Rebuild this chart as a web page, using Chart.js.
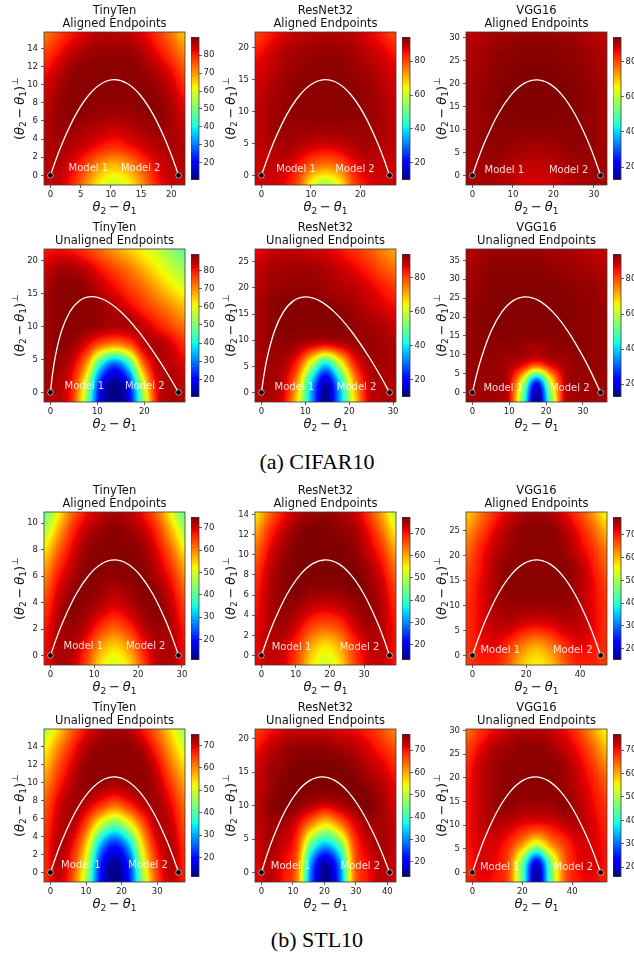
<!DOCTYPE html>
<html><head><meta charset="utf-8">
<script src="https://cdn.jsdelivr.net/npm/chart.js@4.4.1/dist/chart.umd.min.js"></script>
<style>
html,body{margin:0;padding:0;background:#fff;overflow:hidden;width:634px;height:959px;}
#fig{position:relative;width:634px;height:959px;overflow:hidden;}
#fig canvas{position:absolute;}
.cap{position:absolute;left:0;width:634px;text-align:center;font-family:"Liberation Serif","Times New Roman",serif;font-size:22px;line-height:24px;color:#000;}
</style></head><body><div id="fig"></div>
<script>
// ---------------- data ----------------
const networks = ['TinyTen', 'ResNet32', 'VGG16'];
const settingTitles = ['Aligned Endpoints', 'Unaligned Endpoints'];
const captions = ['(a) CIFAR10', '(b) STL10'];
const modelLabels = ['Model 1', 'Model 2'];

// panel order: CIFAR aligned (3), CIFAR unaligned (3), STL aligned (3), STL unaligned (3)
const endpointX = [21.2, 25.9, 31.65, 27.3, 29.2, 34.8, 29.25, 37.4, 47.6, 36.0, 40.7, 51.4];
const xLimits = [[-1.06,22.26],[-1.3,27.2],[-1.58,33.23],[-1.37,28.67],[-1.46,30.66],[-1.74,36.54],[-1.46,30.71],[-1.87,39.27],[-2.38,49.98],[-1.8,37.8],[-2.04,42.74],[-2.57,53.97]];
const yLimits = [[-1.06,15.8],[-1.5,22.4],[-2.08,31.2],[-1.46,21.8],[-1.83,27.45],[-2.5,38.0],[-0.72,10.85],[-0.95,14.25],[-1.92,28.8],[-1.07,16.0],[-1.43,21.45],[-2.02,30.3]];
const colorLimits = [[10.7,89.8],[10.2,93.9],[13.0,93.7],[10.6,88.8],[10.2,93.5],[13.1,93.9],[11.2,74.5],[13.4,77.0],[15.3,77.6],[11.5,74.9],[13.4,77.0],[16.0,76.7]];
const xTicks = [[0,5,10,15,20],[0,10,20],[0,10,20,30],[0,10,20],[0,10,20,30],[0,10,20,30],[0,10,20,30],[0,10,20,30],[0,20,40],[0,10,20,30],[0,10,20,30,40],[0,20,40]];
const yTicks = [[0,2,4,6,8,10,12,14],[0,5,10,15,20],[0,5,10,15,20,25,30],[0,5,10,15,20],[0,5,10,15,20,25],[0,5,10,15,20,25,30,35],[0,2,4,6,8,10],[0,2,4,6,8,10,12,14],[0,5,10,15,20,25],[0,2,4,6,8,10,12,14],[0,5,10,15,20],[0,5,10,15,20,25,30]];
const colorTicks = [[20,30,40,50,60,70,80],[20,40,60,80],[20,40,60,80],[20,30,40,50,60,70,80],[20,40,60,80],[20,40,60,80],[20,30,40,50,60,70],[20,30,40,50,60,70],[20,30,40,50,60,70],[20,30,40,50,60,70],[20,30,40,50,60,70],[20,30,40,50,60,70]];

// white connecting curves
const curveX = [
 [0,1.06,2.12,4.24,6.36,8.48,10.6,12.72,14.84,16.96,19.08,20.14,21.2],
 [0,1.3,2.59,5.18,7.77,10.36,12.95,15.54,18.13,20.72,23.31,24.61,25.9],
 [0,1.58,3.17,6.33,9.5,12.66,15.83,18.99,22.16,25.32,28.49,30.07,31.65],
 [0,0.44,0.98,2.35,4.12,6.27,8.8,11.73,15.04,18.73,22.82,25.01,27.3],
 [0,0.61,1.3,2.96,4.98,7.36,10.1,13.2,16.66,20.48,24.66,26.88,29.2],
 [0,1.18,2.42,5.07,7.96,11.09,14.45,18.05,21.88,25.95,30.26,32.5,34.8],
 [0,1.46,2.93,5.85,8.78,11.7,14.63,17.55,20.48,23.4,26.33,27.79,29.25],
 [0,1.87,3.74,7.48,11.22,14.96,18.7,22.44,26.18,29.92,33.66,35.53,37.4],
 [0,2.38,4.76,9.52,14.28,19.04,23.8,28.56,33.32,38.08,42.84,45.22,47.6],
 [0,1.78,3.56,7.14,10.72,14.3,17.9,21.5,25.12,28.74,32.36,34.18,36.0],
 [0,1.83,3.7,7.47,11.33,15.27,19.3,23.41,27.61,31.89,36.26,38.46,40.7],
 [0,2.48,4.96,9.96,15.0,20.08,25.2,30.36,35.56,40.8,46.08,48.74,51.4]
];
const curveY = [
 [0,2.0,3.8,6.75,8.86,10.13,10.55,10.13,8.86,6.75,3.8,2.0,0],
 [0,2.84,5.38,9.57,12.56,14.35,14.95,14.35,12.56,9.57,5.38,2.84,0],
 [0,3.95,7.49,13.31,17.47,19.97,20.8,19.97,17.47,13.31,7.49,3.95,0],
 [0,2.76,5.24,9.31,12.22,13.97,14.55,13.97,12.22,9.31,5.24,2.76,0],
 [0,3.48,6.59,11.71,15.37,17.57,18.3,17.57,15.37,11.71,6.59,3.48,0],
 [0,4.82,9.13,16.22,21.29,24.34,25.35,24.34,21.29,16.22,9.13,4.82,0],
 [0,1.37,2.6,4.63,6.07,6.94,7.23,6.94,6.07,4.63,2.6,1.37,0],
 [0,1.81,3.42,6.08,7.98,9.12,9.5,9.12,7.98,6.08,3.42,1.81,0],
 [0,3.65,6.91,12.29,16.13,18.43,19.2,18.43,16.13,12.29,6.91,3.65,0],
 [0,2.03,3.84,6.82,8.95,10.23,10.66,10.23,8.95,6.82,3.84,2.03,0],
 [0,2.72,5.15,9.15,12.01,13.73,14.3,13.73,12.01,9.15,5.15,2.72,0],
 [0,3.84,7.27,12.93,16.97,19.39,20.2,19.39,16.97,12.93,7.27,3.84,0]
];

// accuracy (%) sampled on an 11 x 9 grid spanning each panel (rows top -> bottom)
const accuracyGrids = [
 [[72,77,81,84,86,86,85,83,79,73,66],[77,81,85,87,88,88,88,86,82,77,71],[81,85,88,89,89,89,89,88,86,82,76],[84,87,89,89,89,89,89,89,88,85,80],[85,88,89,89,88,88,88,89,89,87,83],[86,88,88,87,86,85,86,87,88,87,85],[86,87,86,84,81,79,81,84,86,87,86],[86,86,83,77,70,67,70,77,83,86,86],[85,85,80,71,62,58,62,71,80,85,85]],
 [[80,84,87,89,90,90,90,89,87,84,80],[84,87,90,91,92,92,92,91,89,87,84],[87,89,91,92,93,93,93,92,91,89,87],[88,90,92,93,93,93,93,93,92,90,88],[89,91,92,93,93,93,93,93,92,91,89],[89,91,92,92,92,92,92,92,92,91,89],[89,90,91,90,88,87,88,90,91,90,89],[88,89,89,85,78,75,78,85,89,89,88],[88,88,86,80,64,57,64,80,86,88,88]],
 [[89,90,91,91.5,92,92,92,91.5,91,90,89],[90,91,92,92.5,93,93,93,92.5,92,91,90],[90.5,91.5,92.5,93,93.5,93.5,93.5,93,92.5,91.5,90.5],[91,92,93,93.5,93.5,93.5,93.5,93.5,93,92,91],[91,92,93,93.5,93.5,93.5,93.5,93.5,93,92,91],[91,92,93,93,93,93,93,93,93,92,91],[91,92,92.5,92,91.5,91,91.5,92,92.5,92,91],[91,91.5,91.5,90.5,89.5,89,89.5,90.5,91.5,91.5,91],[90.5,91,90.5,89.5,88,87.5,88,89.5,90.5,91,90.5]],
 [[80,81,80,77,73,69,65,61,57,52,47],[83,86,86,84,80,76,72,67,62,57,53],[85,88,88,87,84,81,77,73,68,63,59],[86,88,88,88,87,85,82,78,74,70,66],[86,88,88,88,87,86,86,84,80,76,72],[86,88,87,82,74,70,74,84,86,83,78],[86,87,83,70,42,28,42,72,85,85,82],[86,86,80,58,22,12,22,57,82,86,84],[85,85,78,52,18,11,18,50,80,86,85]],
 [[85,88,89,89,88,87,85,82,79,75,71],[88,90,91,91,91,90,88,86,83,79,76],[89,91,92,92,92,91,90,89,87,84,81],[90,92,93,93,93,93,92,91,89,87,85],[90,92,93,93,93,93,93,92,91,90,88],[90,92,92,91,88,86,88,91,92,91,90],[90,91,90,82,60,40,60,82,90,91,90],[90,91,88,72,38,14,38,70,88,90,90],[89,90,86,66,34,11,34,64,86,90,90]],
 [[90,91,92,92,92,92,91.5,91,90.5,89.5,88.5],[91,92,93,93,93,93,92.5,92,91.5,91,90],[91.5,92.5,93.5,93.5,93.5,93.5,93.5,93,92.5,92,91],[92,93,93.5,93.5,93.5,93.5,93.5,93.5,93,92.5,92],[92,93,93.5,93.5,93.5,93.5,93.5,93.5,93,92.5,92],[92,93,93,93,92.5,91.5,92.5,93,93,92.5,92],[92,92.5,92.5,91,88,82,88,91,92.5,92.5,92],[91.5,92,92,89,62,25,62,89,92,92,91.5],[91,91.5,91,88,52,13,52,88,91,91.5,91]],
 [[41,52,62,68,71,72,71,68,62,52,41],[47,57,66,71,73,74,73,71,66,57,47],[53,62,69,73,74,74,74,73,69,62,53],[58,66,71,74,74,74,74,74,71,66,58],[62,69,73,74,73,72,73,74,73,69,62],[65,71,74,73,71,69,71,73,74,71,65],[67,72,73,71,66,63,66,71,73,72,67],[68,72,72,67,59,55,59,67,72,72,68],[68,72,71,64,54,50,54,64,71,72,68]],
 [[55,64,70,74,75,76,75,73,68,60,50],[60,68,73,76,77,77,76,75,71,64,55],[64,71,75,77,77,77,77,76,73,68,60],[67,73,76,77,77,77,77,77,75,71,64],[69,74,76,77,76,76,76,77,76,73,67],[70,74,76,75,73,72,73,75,76,74,69],[71,74,75,72,67,65,67,72,75,74,70],[71,74,73,68,60,56,60,68,73,74,70],[71,73,72,66,56,52,56,66,72,73,70]],
 [[58,64,69,73,75,76,75,72,68,62,55],[62,67,72,75,77,77,77,75,71,66,60],[65,70,74,76,77,77,77,76,73,69,64],[67,71,75,77,77,77,77,77,75,71,66],[68,72,75,77,77,77,77,77,75,72,68],[69,72,75,76,76,76,76,76,75,72,69],[69,72,74,74,72,71,72,74,74,72,69],[69,71,72,69,64,61,64,69,72,71,69],[68,70,70,66,59,56,59,66,70,70,68]],
 [[47,55,63,69,72,73,72,68,62,54,46],[52,60,67,72,74,74,74,72,66,58,50],[56,64,70,74,74,74,74,74,70,62,55],[60,67,72,74,73,72,73,74,72,66,59],[63,70,73,71,66,62,66,71,73,69,62],[65,71,72,64,50,42,50,63,72,71,64],[66,72,69,56,32,22,32,55,69,72,66],[66,72,66,50,22,13,22,49,66,72,67],[66,71,64,46,20,12,20,45,64,71,67]],
 [[67,70,72,73,73,73,72,71,69,66,62],[70,73,75,76,76,76,75,74,72,69,66],[72,75,76,77,77,77,77,76,74,72,69],[73,75,77,77,77,77,77,77,76,74,71],[73,76,77,76,74,72,74,76,77,75,72],[73,75,75,71,62,55,62,71,75,75,73],[72,75,73,67,44,34,44,66,73,75,73],[72,74,71,64,30,16,30,63,71,74,73],[71,74,70,62,27,14,27,62,70,74,72]],
 [[64,68,71,73,74,74,73,71,67,61,55],[67,71,74,75,76,76,75,73,70,65,59],[69,73,75,76,76,76,76,75,72,68,63],[70,73,75,76,76,76,76,75,73,70,66],[70,73,75,76,75,75,75,76,74,71,68],[70,73,74,73,71,70,71,73,74,72,69],[70,72,72,69,62,53,62,68,72,72,70],[69,72,71,66,46,22,46,65,71,72,70],[69,71,70,66,44,17,44,65,70,71,69]]
];

// ---------------- layout / style ----------------
const COL_LEFT = [44, 255, 466], ROW_TOP = [32, 249, 512, 729];
const PLOT_W = 141, PLOT_H = 153, PAD_L = 44, PAD_T = 32, AX_H = 30;
const FONT = '"DejaVu Sans", "Liberation Sans", sans-serif';
const AXIS_COLOR = '#3a3a3a', TEXT_COLOR = '#222';
const TICK_SIZE = 8.5;
const fig = document.getElementById('fig');

const JET = {
  r: [[0,0],[0.35,0],[0.66,1],[0.89,1],[1,0.5]],
  g: [[0,0],[0.125,0],[0.375,1],[0.64,1],[0.91,0],[1,0]],
  b: [[0,0.5],[0.11,1],[0.34,1],[0.65,0],[1,0]]
};
function seg(s, t) {
  for (let k = 1; k < s.length; k++) {
    if (t <= s[k][0]) { const [x0,y0] = s[k-1], [x1,y1] = s[k]; return y0 + (y1 - y0) * (t - x0) / (x1 - x0); }
  }
  return s[s.length-1][1];
}
function jet(t) {
  t = Math.max(0, Math.min(1, t));
  return [Math.round(255*seg(JET.r,t)), Math.round(255*seg(JET.g,t)), Math.round(255*seg(JET.b,t))];
}
// Catmull-Rom, clamped between the two inner samples (no overshoot)
function cubic(p0, p1, p2, p3, t) {
  const v = p1 + 0.5 * t * (p2 - p0 + t * (2*p0 - 5*p1 + 4*p2 - p3 + t * (3*(p1 - p2) + p3 - p0)));
  return Math.max(Math.min(p1, p2), Math.min(Math.max(p1, p2), v));
}
// render-time smoothing of the sampled grid (like imshow interpolation)
function sampleGrid(g, fx, fy) {
  const rows = g.length, cols = g[0].length;
  const ix = Math.floor(fx), iy = Math.floor(fy), tx = fx - ix, ty = fy - iy;
  const at = (r, c) => g[Math.min(rows-1, Math.max(0, r))][Math.min(cols-1, Math.max(0, c))];
  const col = [];
  for (let k = -1; k <= 2; k++) col.push(cubic(at(iy+k, ix-1), at(iy+k, ix), at(iy+k, ix+1), at(iy+k, ix+2), tx));
  return cubic(col[0], col[1], col[2], col[3], ty);
}

const xLabelParts = [{t:'θ',i:1},{t:'2',s:'sub'},{t:'−',g:0.22},{t:'θ',i:1},{t:'1',s:'sub'}];
const yLabelParts = [{t:'('},{t:'θ',i:1},{t:'2',s:'sub'},{t:'−',g:0.22},{t:'θ',i:1},{t:'1',s:'sub'},{t:')'},{t:'⊥',s:'sup',g:0.04}];
function drawMath(ctx, parts, size, cx, baseY) {
  const items = parts.map(p => {
    const fs = p.s ? size * 0.7 : size;
    const font = (p.i ? 'italic ' : '') + fs + 'px ' + FONT;
    ctx.font = font;
    const gap = (p.g || 0) * size;
    return Object.assign({}, p, { font, gap, w: ctx.measureText(p.t).width + 2 * gap });
  });
  const total = items.reduce((s, it) => s + it.w, 0);
  let xx = cx - total / 2;
  ctx.textAlign = 'left'; ctx.textBaseline = 'alphabetic';
  for (const it of items) {
    ctx.font = it.font;
    const dy = it.s === 'sub' ? size * 0.22 : it.s === 'sup' ? -size * 0.42 : 0;
    ctx.fillText(it.t, xx + it.gap, baseY + dy);
    xx += it.w;
  }
}

function tickSetter(vals) { return s => { s.ticks = vals.map(v => ({ value: v })); }; }
function axisCommon(vals) {
  return {
    type: 'linear', afterBuildTicks: tickSetter(vals),
    grid: { drawOnChartArea: false, drawTicks: true, tickLength: 3, color: AXIS_COLOR, lineWidth: 0.8 },
    border: { display: false },
    ticks: { font: { family: FONT, size: TICK_SIZE }, color: TEXT_COLOR, padding: 2, maxRotation: 0, autoSkip: false }
  };
}
function mkCanvas(left, top, w, h) {
  const c = document.createElement('canvas');
  c.width = w; c.height = h;
  c.style.left = left + 'px'; c.style.top = top + 'px';
  c.style.width = w + 'px'; c.style.height = h + 'px';
  fig.appendChild(c);
  return c;
}

for (let i = 0; i < 12; i++) {
  const row = Math.floor(i / 3), col = i % 3;
  const plotLeft = COL_LEFT[col], plotTop = ROW_TOP[row];

  const heatPlugin = {
    id: 'heat' + i,
    beforeDatasetsDraw(chart) {
      const { ctx, chartArea: a, scales: { x, y } } = chart;
      const grid = accuracyGrids[i], rows = grid.length, cols = grid[0].length;
      const [x0, x1] = xLimits[i], [y0, y1] = yLimits[i], [c0, c1] = colorLimits[i];
      const L = Math.round(a.left), T = Math.round(a.top);
      const W = Math.round(a.right) - L, H = Math.round(a.bottom) - T;
      const off = document.createElement('canvas'); off.width = W; off.height = H;
      const octx = off.getContext('2d'); const img = octx.createImageData(W, H);
      for (let py = 0; py < H; py++) {
        const fy = (y1 - y.getValueForPixel(T + py + 0.5)) / (y1 - y0) * (rows - 1);
        for (let px = 0; px < W; px++) {
          const fx = (x.getValueForPixel(L + px + 0.5) - x0) / (x1 - x0) * (cols - 1);
          const v = sampleGrid(grid, fx, fy);
          const [r, g, b] = jet((v - c0) / (c1 - c0));
          const k = (py * W + px) * 4;
          img.data[k] = r; img.data[k+1] = g; img.data[k+2] = b; img.data[k+3] = 255;
        }
      }
      octx.putImageData(img, 0, 0);
      ctx.drawImage(off, L, T);
    }
  };
  const decoPlugin = {
    id: 'deco' + i,
    afterDatasetsDraw(chart) {
      const { ctx, scales: { x, y } } = chart;
      ctx.save();
      ctx.font = '10px ' + FONT; ctx.fillStyle = 'rgba(255,255,255,0.85)'; ctx.textBaseline = 'alphabetic';
      const by = y.getPixelForValue(0.5);
      ctx.textAlign = 'left'; ctx.fillText(modelLabels[0], x.getPixelForValue(3), by);
      ctx.textAlign = 'right'; ctx.fillText(modelLabels[1], x.getPixelForValue(endpointX[i] - 3), by);
      ctx.restore();
    },
    afterDraw(chart) {
      const { ctx, chartArea: a } = chart;
      ctx.save();
      ctx.strokeStyle = AXIS_COLOR; ctx.lineWidth = 0.8;
      ctx.strokeRect(a.left, a.top, a.right - a.left, a.bottom - a.top);
      const cx = (a.left + a.right) / 2;
      ctx.fillStyle = '#111'; ctx.font = '11.5px ' + FONT; ctx.textAlign = 'center'; ctx.textBaseline = 'alphabetic';
      ctx.fillText(networks[col], cx, a.top - 18);
      ctx.fillText(settingTitles[row % 2], cx, a.top - 5);
      ctx.fillStyle = '#111';
      drawMath(ctx, xLabelParts, 13, cx, a.bottom + 26);
      ctx.translate(a.left - 20.5, (a.top + a.bottom) / 2);
      ctx.rotate(-Math.PI / 2);
      drawMath(ctx, yLabelParts, 13, 0, 0);
      ctx.restore();
    }
  };

  const cv = mkCanvas(plotLeft - PAD_L, plotTop - PAD_T, PAD_L + PLOT_W + 8, PAD_T + PLOT_H + AX_H + 2);
  const xAxis = axisCommon(xTicks[i]);
  xAxis.min = xLimits[i][0]; xAxis.max = xLimits[i][1];
  xAxis.afterFit = s => { s.height = AX_H; };
  const yAxis = axisCommon(yTicks[i]);
  yAxis.min = yLimits[i][0]; yAxis.max = yLimits[i][1];
  yAxis.afterFit = s => { s.width = PAD_L; };
  yAxis.ticks.padding = 3;

  new Chart(cv, {
    type: 'scatter',
    data: { datasets: [
      { type: 'line', data: curveX[i].map((v, k) => ({ x: v, y: curveY[i][k] })), borderColor: '#ffffff', borderWidth: 1.3,
        pointRadius: 0, cubicInterpolationMode: 'monotone', fill: false, order: 2 },
      { type: 'scatter', data: [{ x: 0, y: 0 }, { x: endpointX[i], y: 0 }], pointRadius: 2.8,
        pointBackgroundColor: '#000', pointBorderColor: '#ffffff', pointBorderWidth: 0.6, order: 1 }
    ]},
    options: {
      animation: false, responsive: false, devicePixelRatio: 1, events: [],
      layout: { padding: { left: 0, top: PAD_T, right: 8, bottom: 2 } },
      plugins: { legend: { display: false }, tooltip: { enabled: false }, title: { display: false } },
      scales: { x: xAxis, y: yAxis }
    },
    plugins: [heatPlugin, decoPlugin]
  });

  // colour bar
  const cbPlugin = {
    id: 'cb' + i,
    beforeDraw(chart) {
      const { ctx, chartArea: a, scales: { y } } = chart;
      const [c0, c1] = colorLimits[i];
      for (let py = Math.floor(a.top); py < Math.ceil(a.bottom); py++) {
        const v = y.getValueForPixel(py + 0.5);
        const [r, g, b] = jet((v - c0) / (c1 - c0));
        ctx.fillStyle = `rgb(${r},${g},${b})`;
        ctx.fillRect(a.left, py, a.right - a.left, 1);
      }
    },
    afterDraw(chart) {
      const { ctx, chartArea: a } = chart;
      ctx.save(); ctx.strokeStyle = AXIS_COLOR; ctx.lineWidth = 0.8;
      ctx.strokeRect(a.left, a.top, a.right - a.left, a.bottom - a.top);
      ctx.restore();
    }
  };
  const cbAxis = axisCommon(colorTicks[i]);
  cbAxis.position = 'right';
  cbAxis.min = colorLimits[i][0]; cbAxis.max = colorLimits[i][1];
  cbAxis.afterFit = s => { s.width = 30; };
  cbAxis.ticks.padding = 1.5;
  const cbc = mkCanvas(plotLeft + PLOT_W + 6, plotTop + 5 - 6, 8 + 30, PLOT_H - 10 + 12);
  new Chart(cbc, {
    type: 'scatter',
    data: { datasets: [] },
    options: {
      animation: false, responsive: false, devicePixelRatio: 1, events: [],
      layout: { padding: { left: 0, top: 6, right: 0, bottom: 6 } },
      plugins: { legend: { display: false }, tooltip: { enabled: false } },
      scales: { x: { display: false, min: 0, max: 1 }, y: cbAxis }
    },
    plugins: [cbPlugin]
  });
}

captions.forEach((t, k) => {
  const d = document.createElement('div');
  d.className = 'cap'; d.textContent = t;
  d.style.top = (k === 0 ? 450 : 928) + 'px';
  fig.appendChild(d);
});
</script></body></html>
